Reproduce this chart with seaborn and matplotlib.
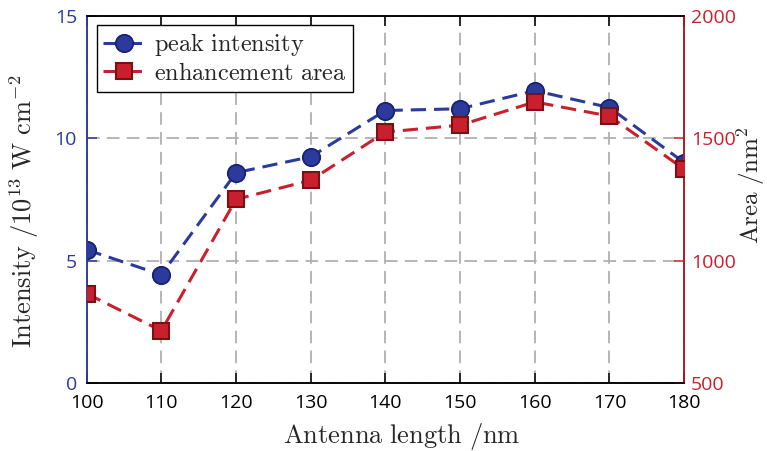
import matplotlib
matplotlib.use("Agg")
import matplotlib.pyplot as plt
import seaborn as sns
import pandas as pd

# Antenna length sweep
antenna_length = [100, 110, 120, 130, 140, 150, 160, 170, 180]
peak_intensity = [5.44, 4.42, 8.59, 9.24, 11.13, 11.2, 11.94, 11.25, 9.0]
enhancement_area = [865, 713, 1250, 1328, 1525, 1553, 1648, 1590, 1373]

x_ticks = [100, 110, 120, 130, 140, 150, 160, 170, 180]
left_ticks = [0, 5, 10, 15]
right_ticks = [500, 1000, 1500, 2000]

BLUE = "#2b3b9c"
BLUE_EDGE = "#1a2270"
RED = "#c8202c"
RED_EDGE = "#7a0f14"

sns.set_theme(style="white")
plt.rcParams["font.family"] = ["Open Sans", "DejaVu Sans"]
plt.rcParams["mathtext.fontset"] = "cm"

df = pd.DataFrame({"length": antenna_length,
                   "intensity": peak_intensity,
                   "area": enhancement_area})

W, H = 767, 451
fig = plt.figure(figsize=(W / 100, H / 100), dpi=100)
ax = fig.add_axes([0.113, 0.151, 0.779, 0.814])
ax2 = ax.twinx()

dash = (5, 2.6)
sns.lineplot(data=df, x="length", y="intensity", ax=ax, color=BLUE,
             linewidth=2.2, marker="o", markersize=12.5,
             markerfacecolor=BLUE, markeredgecolor=BLUE_EDGE,
             markeredgewidth=1.3, dashes=False, label="peak intensity",
             legend=False, zorder=5)
ax.lines[-1].set_dashes(dash)
sns.lineplot(data=df, x="length", y="area", ax=ax2, color=RED,
             linewidth=2.2, marker="s", markersize=11,
             markerfacecolor=RED, markeredgecolor=RED_EDGE,
             markeredgewidth=1.5, dashes=False, label="enhancement area",
             legend=False, zorder=5)
ax2.lines[-1].set_dashes(dash)

ax.set_xlim(100, 180)
ax.set_ylim(0, 15)
ax2.set_ylim(500, 2000)
ax.set_xticks(x_ticks)
ax.set_yticks(left_ticks)
ax2.set_yticks(right_ticks)
ax.set_xlabel("")
ax.set_ylabel("")
ax2.set_ylabel("")

# Dashed grey grid
ax.grid(True, color="#b0b0b0", linestyle=(0, (7, 4)), linewidth=1.3)
ax.set_axisbelow(True)

for a in (ax, ax2):
    for s in a.spines.values():
        s.set_linewidth(1.1)
        s.set_color("black")
ax.spines["left"].set_color(BLUE)
ax2.spines["left"].set_color(BLUE)
ax2.spines["right"].set_color(RED)

ax.tick_params(axis="x", direction="in", length=7, width=1.1, colors="black",
               labelsize=14, pad=8, top=True, bottom=True)
ax.tick_params(axis="y", direction="in", length=7, width=1.1, colors=BLUE,
               labelsize=14, pad=7, left=True, right=False)
ax2.tick_params(axis="y", direction="in", length=7, width=1.1, colors=RED,
                labelsize=14, pad=5, right=True)

# Axis titles placed in figure pixels
fig.text(402 / W, 1 - 437 / H, r"$\mathrm{Antenna\ length\ /nm}$",
         fontsize=19, ha="center", va="center")
fig.text(24 / W, 1 - 211 / H,
         r"$\mathrm{Intensity}\ /10^{13}\ \mathrm{W\ cm}^{-2}$",
         fontsize=19, ha="center", va="center", rotation=90)
fig.text(751 / W, 1 - 185 / H, r"$\mathrm{Area}\ /\mathrm{nm}^{2}$",
         fontsize=18, ha="center", va="center", rotation=90)

h1, l1 = ax.get_legend_handles_labels()
h2, l2 = ax2.get_legend_handles_labels()
leg = ax2.legend(h1 + h2, ["$\\mathrm{peak\\ intensity}$",
                           "$\\mathrm{enhancement\\ area}$"],
                 loc="upper left", bbox_to_anchor=(0.017, 0.975),
                 fontsize=17.5, frameon=True, fancybox=False,
                 edgecolor="black", framealpha=1, borderpad=0.25,
                 handlelength=1.7, handletextpad=0.4, labelspacing=0.15,
                 borderaxespad=0)
leg.get_frame().set_linewidth(1.0)
leg.set_zorder(20)

fig.savefig("out.png", dpi=100)
